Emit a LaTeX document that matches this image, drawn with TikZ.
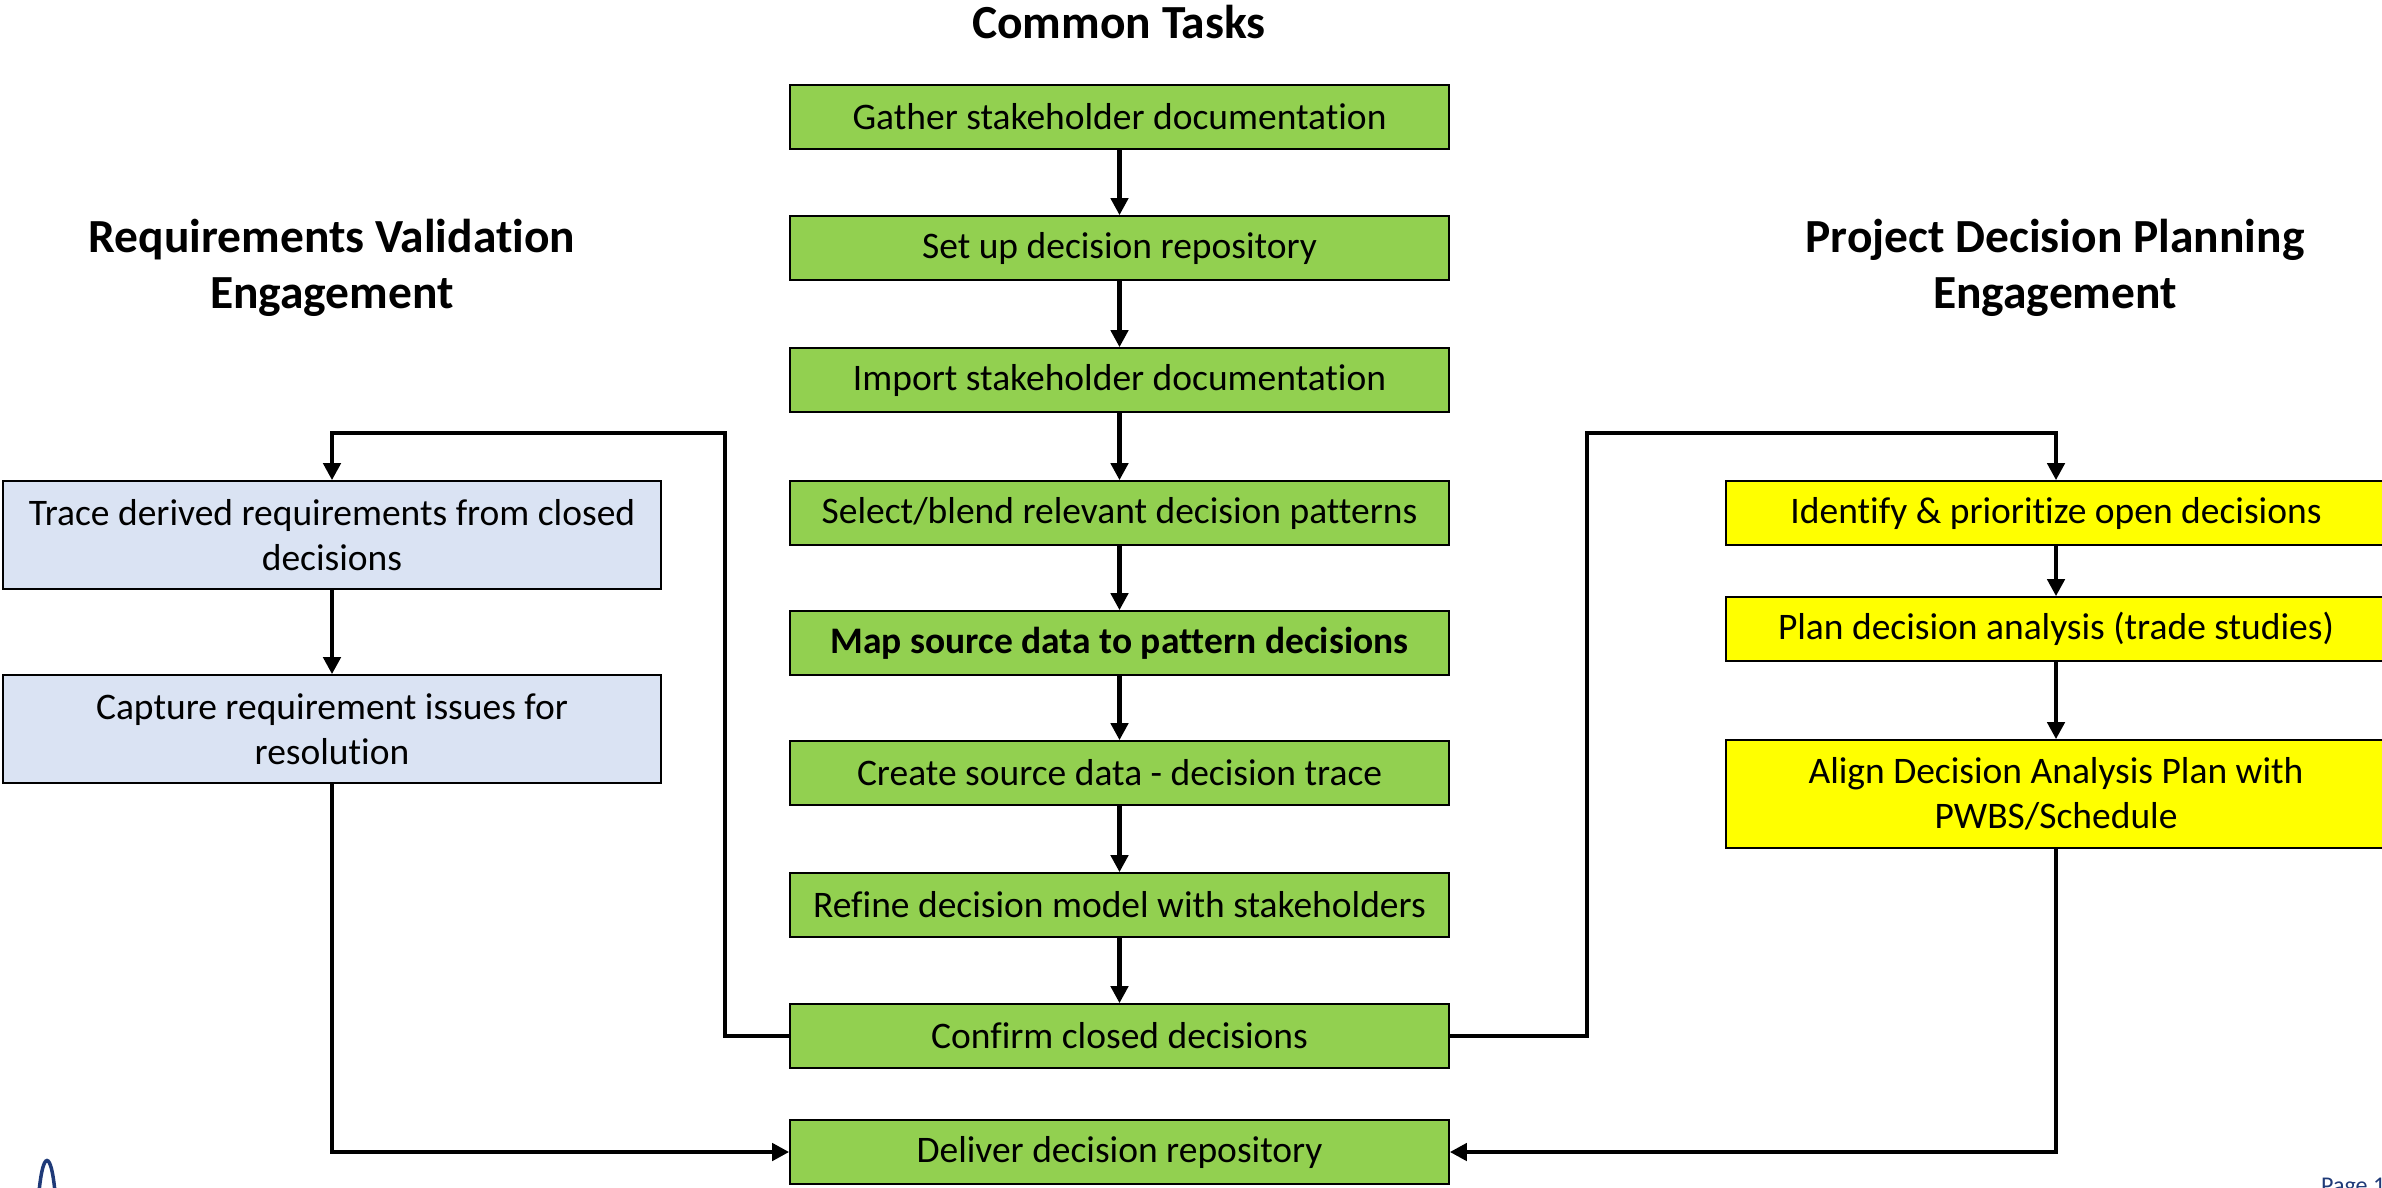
\documentclass[tikz,border=0pt]{standalone}
\usepackage{fontspec}
\setmainfont{Carlito}[Ligatures=NoCommon]
\usetikzlibrary{arrows.meta}

\definecolor{taskgreen}{HTML}{92D050}
\definecolor{reqblue}{HTML}{DAE3F3}
\definecolor{planyellow}{HTML}{FFFF00}
\definecolor{logonavy}{HTML}{1F3A78}

\tikzset{
  box/.style={draw=black, line width=1.6pt, minimum height=64pt,
    inner sep=0pt, align=center, font=\fontsize{37.5}{45}\selectfont},
  taskbox/.style={box, fill=taskgreen, minimum width=659pt},
  reqbox/.style={box, fill=reqblue, minimum width=658pt, minimum height=108pt},
  planbox/.style={box, fill=planyellow, minimum width=660pt},
  heading/.style={align=center, inner sep=0pt, font=\fontsize{47.5}{56}\selectfont\bfseries},
  conn/.style={draw=black, line width=4.5pt, -{Triangle[length=17pt,width=17pt]}},
}

\begin{document}
\begin{tikzpicture}[x=1pt, y=-1pt]
  \useasboundingbox (0,0) rectangle (2382,1187);
  \clip (0,0) rectangle (2382,1187);
  \fill[white] (0,0) rectangle (2382,1187);

  % section headings
  \node[heading] (hcommon) at (1119,22) {Common Tasks};
  \node[heading] (hreq) at (332,268) {Requirements Validation\\Engagement};
  \node[heading] (hplan) at (2055,268) {Project Decision Planning\\Engagement};

  % common tasks column
  \node[taskbox] (b1) at (1119.5,117) {Gather stakeholder documentation};
  \node[taskbox] (b2) at (1119.5,248) {Set up decision repository};
  \node[taskbox] (b3) at (1119.5,380) {Import stakeholder documentation};
  \node[taskbox] (b4) at (1119.5,513) {Select/blend relevant decision patterns};
  \node[taskbox, font=\fontsize{37.5}{45}\selectfont\bfseries] (b5) at (1119.5,643) {Map source data to pattern decisions};
  \node[taskbox] (b6) at (1119.5,773) {Create source data - decision trace};
  \node[taskbox] (b7) at (1119.5,905) {Refine decision model with stakeholders};
  \node[taskbox] (b8) at (1119.5,1036) {Confirm closed decisions};
  \node[taskbox] (b9) at (1119.5,1152) {Deliver decision repository};

  % requirements validation column
  \node[reqbox] (l1) at (332,535) {Trace derived requirements from closed\\decisions};
  \node[reqbox] (l2) at (332,729) {Capture requirement issues for\\resolution};

  % decision planning column
  \node[planbox] (r1) at (2056,513) {Identify \& prioritize open decisions};
  \node[planbox] (r2) at (2056,629) {Plan decision analysis (trade studies)};
  \node[planbox, minimum height=108pt] (r3) at (2056,794) {Align Decision Analysis Plan with\\PWBS/Schedule};

  % main sequence
  \foreach \a/\b in {b1/b2, b2/b3, b3/b4, b4/b5, b5/b6, b6/b7, b7/b8, l1/l2, r1/r2, r2/r3}
    \draw[conn] (\a.south) -- (\b.north);

  % branches out of the confirmation step
  \coordinate (lbend) at (725,433);
  \coordinate (rbend) at (1587,433);
  \draw[conn] (b8.west) -| (lbend) -| (l1.north);
  \draw[conn] (b8.east) -| (rbend) -| (r1.north);

  % both engagements feed the delivery
  \draw[conn] (l2.south) |- (b9.west);
  \draw[conn] (r3.south) |- (b9.east);

  % footer: logo edge and page number
  \draw[logonavy, line width=3.5pt] (39,1192) .. controls (43,1150) and (51,1150) .. (55,1192);
  \node[anchor=base west, inner sep=0pt, text=logonavy, font=\fontsize{24}{28}\selectfont] (pg) at (2321,1193) {Page 1};
\end{tikzpicture}
\end{document}
